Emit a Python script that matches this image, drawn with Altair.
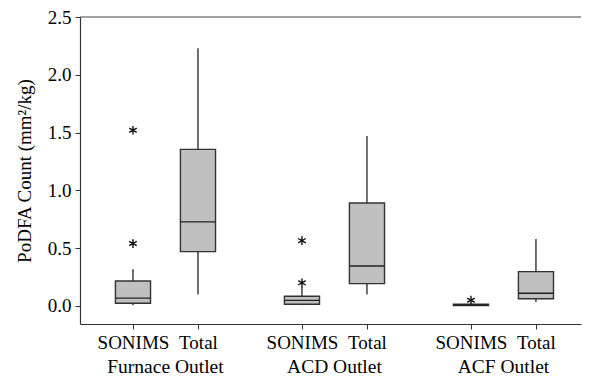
import altair as alt
import pandas as pd

groups = ["Furnace Outlet", "ACD Outlet", "ACF Outlet"]
series = ["SONIMS", "Total", "SONIMS", "Total", "SONIMS", "Total"]
pos = [1.0, 2.0, 3.6, 4.6, 6.2, 7.2]
whisker_low = [0.006, 0.10, 0.006, 0.10, 0.004, 0.035]
q1 = [0.023, 0.47, 0.015, 0.193, 0.004, 0.063]
median = [0.067, 0.727, 0.049, 0.346, 0.010, 0.11]
q3 = [0.216, 1.355, 0.084, 0.891, 0.016, 0.297]
whisker_high = [0.317, 2.23, 0.164, 1.47, 0.016, 0.58]
outlier_pos = [1.0, 1.0, 3.6, 3.6, 6.2]
outlier_val = [1.52, 0.54, 0.565, 0.20, 0.05]
y_ticks = [0.0, 0.5, 1.0, 1.5, 2.0, 2.5]

box_df = pd.DataFrame({"pos": pos, "series": series, "lw": whisker_low, "q1": q1,
                       "med": median, "q3": q3, "hw": whisker_high})
out_df = pd.DataFrame({"pos": outlier_pos, "val": outlier_val})
grp_df = pd.DataFrame({"group": groups,
                       "mid": [(pos[2 * i] + pos[2 * i + 1]) / 2 for i in range(3)]})
top_df = pd.DataFrame({"top": [y_ticks[-1]]})

xscale = alt.Scale(domain=[0.185, 7.893], nice=False, zero=False)
yscale = alt.Scale(domain=[-0.156, 2.5], nice=False, zero=False)
xaxis = alt.Axis(values=pos, labelExpr="indexof([1,3.6,6.2], datum.value) >= 0 ? 'SONIMS' : 'Total'",
                 tickSize=5, labelPadding=4, title=None)
yaxis = alt.Axis(values=y_ticks, format=".1f", tickSize=5, labelPadding=4, titlePadding=13,
                 title="PoDFA Count (mm²/kg)")


def X(field):
    return alt.X(field, type="quantitative", scale=xscale, axis=xaxis)


def Y(field):
    return alt.Y(field, type="quantitative", scale=yscale, axis=yaxis)


base = alt.Chart(box_df).transform_calculate(lo="datum.pos - 0.27", hi="datum.pos + 0.27")

whiskers = base.mark_rule(color="#111", strokeWidth=1.2).encode(x=X("pos"), y=Y("lw"), y2="hw")
boxes = base.mark_rect(fill="#c0c0c0", stroke="#333", strokeWidth=1.4).encode(
    x=X("lo"), x2="hi", y=Y("q1"), y2="q3")
medians = base.mark_rule(color="#222", strokeWidth=1.3).encode(x=X("lo"), x2="hi", y=Y("med"))

aster = "M0,-1L0,1M-0.87,-0.5L0.87,0.5M-0.87,0.5L0.87,-0.5"
outliers = alt.Chart(out_df).mark_point(shape=aster, size=75, stroke="#111", strokeWidth=1.4,
                                        filled=False, opacity=1).encode(x=X("pos"), y=Y("val"))

top_line = alt.Chart(top_df).mark_rule(color="#444", strokeWidth=1.2).encode(y=Y("top"))

group_labels = alt.Chart(grp_df).mark_text(font="Liberation Serif", fontSize=19.5, color="black",
                                           baseline="alphabetic").encode(
    x=X("mid"), y=alt.value(356), text="group:N")

chart = alt.layer(top_line, whiskers, boxes, medians, outliers, group_labels).properties(
    width=501, height=307,
    padding={"left": 7, "top": 0, "right": 0, "bottom": 0},
).configure_view(stroke=None).configure_axis(
    grid=False, domainColor="#333", domainWidth=1.2, tickColor="#333",
    labelFont="Liberation Serif", labelFontSize=19, labelColor="black",
    titleFont="Liberation Serif", titleFontSize=19, titleFontWeight="normal", titleColor="black",
)

chart.save("out.html", embed_options={"renderer": "svg", "actions": False})
